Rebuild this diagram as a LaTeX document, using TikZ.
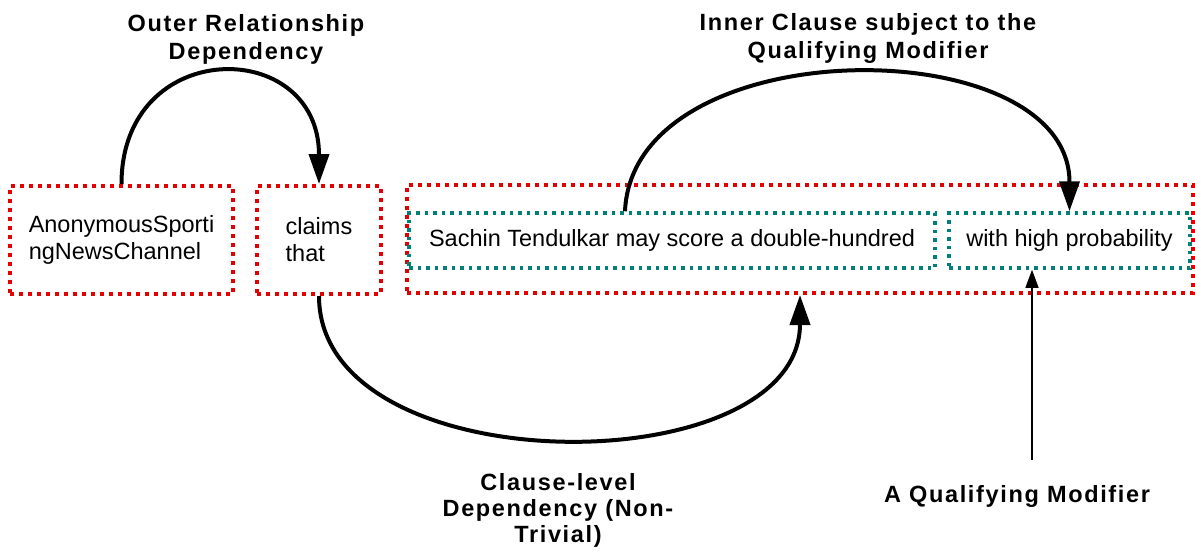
\documentclass[tikz,border=0pt]{standalone}
\usepackage{fontspec}
\setmainfont{Liberation Sans}
\newfontfamily\labelfont{Liberation Sans}[LetterSpace=7]
\usetikzlibrary{arrows.meta}
\definecolor{boxred}{RGB}{228,0,0}
\definecolor{boxteal}{RGB}{0,128,118}
\begin{document}
\begin{tikzpicture}[x=1pt,y=-1pt,
  wordbox/.style={draw=boxred, line width=4pt, dash pattern=on 4pt off 5pt,
    inner sep=0pt, align=left, font=\fontsize{23.5}{27}\selectfont},
  clausebox/.style={draw=boxteal, line width=3.5pt, dash pattern=on 3.5pt off 5pt,
    inner sep=0pt, font=\fontsize{23.5}{27}\selectfont},
  deplabel/.style={font=\labelfont\bfseries\fontsize{23.5}{28}\selectfont,
    align=center, inner sep=0pt},
  deparc/.style={line width=4pt, -{Triangle[length=30pt,width=20pt]}},
  modarrow/.style={line width=1.4pt, -{Triangle[length=18pt,width=13pt]}}]

\useasboundingbox (0,0) rectangle (1195,555);

% words of the sentence
\node[wordbox, minimum width=223pt, minimum height=108pt] (src) at (121.5,240)
  {AnonymousSporti\\ngNewsChannel};
\node[wordbox, minimum width=124pt, minimum height=108pt] (verb) at (319,240)
  {claims\\that};
\node[wordbox, minimum width=786pt, minimum height=108pt] (clause) at (800,239) {};

% parts of the embedded clause
\node[clausebox, minimum width=526pt, minimum height=55pt] (inner) at (672,240.5)
  {Sachin Tendulkar may score a double-hundred};
\node[clausebox, minimum width=241pt, minimum height=55pt] (qual) at (1069.5,240.5)
  {with high probability};

% dependency labels
\node[deplabel, anchor=north] (lblouter) at (246,14)
  {Outer Relationship\\Dependency};
\node[deplabel, anchor=north] (lblinner) at (868,13)
  {Inner Clause subject to the\\Qualifying Modifier};
\node[deplabel, anchor=north, font=\labelfont\bfseries\fontsize{23.5}{26}\selectfont]
  (lblclause) at (558,473) {Clause-level\\Dependency (Non-\\Trivial)};
\node[deplabel, anchor=base] (lblmod) at (1017,502) {A Qualifying Modifier};

% dependency arcs
\draw[deparc] (src.north) .. controls +(0,-148) and +(0,-148) .. (verb.north);
\draw[deparc] ([xshift=-47pt]inner.north) .. controls +(8,-183) and +(0,-183) .. (qual.north);
\draw[deparc] (verb.south) .. controls +(0,190) and +(0,190) .. (clause.south);

% pointer to the modifier
\coordinate (modfoot) at (1032,460);
\draw[modarrow] (modfoot) -- (modfoot |- qual.south);
\end{tikzpicture}
\end{document}
